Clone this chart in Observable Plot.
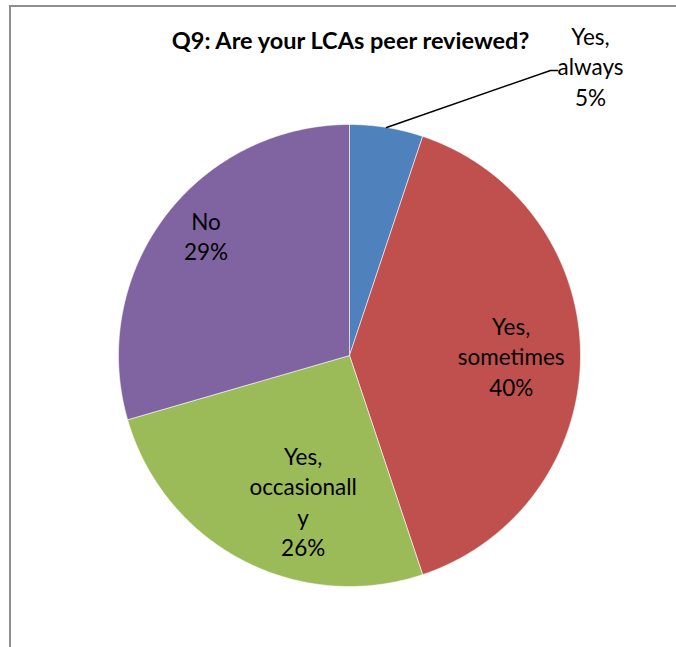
<!DOCTYPE html>
<html>
<head>
<meta charset="utf-8">
<script src="https://cdn.jsdelivr.net/npm/d3@7"></script>
<script src="https://cdn.jsdelivr.net/npm/@observablehq/plot@0.6"></script>
<style>
  html, body { margin: 0; padding: 0; background: #fff; overflow: hidden; }
  #wrap { position: relative; width: 676px; height: 647px; overflow: hidden; }
  #frame { position: absolute; left: 9px; top: 5px; width: 720px; height: 720px;
           border: 2px solid #8f8f8f; box-sizing: border-box; pointer-events: none; }
  #chart { position: absolute; left: 0; top: 0; }
</style>
</head>
<body>
<div id="wrap"><div id="chart"></div><div id="frame"></div></div>
<script>
// ---- data ----
const title = "Q9: Are your LCAs peer reviewed?";
const categories = ["Yes, always", "Yes, sometimes", "Yes, occasionally", "No"];
const wrappedNames = ["Yes,\nalways", "Yes,\nsometimes", "Yes,\noccasionall\ny", "No"];
const counts = [4, 31, 20, 23];
const colors = ["#4F81BD", "#C0504D", "#9BBB59", "#8064A2"];

// ---- layout ----
const W = 676, H = 647;
const cx = 349, cy = 355, R = 231;
const font = "Lato, 'Open Sans', sans-serif";
const toX = px => (px - cx) / R, toY = py => (py - cy) / R;
// label placement: radial fraction for inside labels; [px,py] for outside one
const labelRadius = [null, 0.70, 0.66, 0.81];
const labelAngleShift = [0, 0, -10, 3];
const outsideLabel = [590, 65];
const leaderElbow = [[550, 70], [557, 70]];

const total = d3.sum(counts);
const pie = d3.pie().sort(null).value(d => d)(counts);

const marks = [];
pie.forEach((p, i) => {
  const pts = [{x: 0, y: 0}];
  const n = Math.max(4, Math.ceil((p.endAngle - p.startAngle) / (Math.PI / 360)));
  for (let k = 0; k <= n; k++) {
    const a = p.startAngle + (p.endAngle - p.startAngle) * k / n;
    pts.push({x: Math.sin(a), y: -Math.cos(a)});
  }
  pts.push({x: 0, y: 0});
  marks.push(Plot.line(pts, {x: "x", y: "y", fill: colors[i], stroke: "#ffffff",
    strokeWidth: 0.8, strokeOpacity: 0.7, curve: "linear-closed"}));
});

const labels = pie.map((p, i) => {
  const pct = Math.round(counts[i] / total * 100) + "%";
  const text = wrappedNames[i] + "\n" + pct;
  if (labelRadius[i] == null) {
    return {text, x: toX(outsideLabel[0]), y: toY(outsideLabel[1])};
  }
  const a = (p.startAngle + p.endAngle) / 2 + labelAngleShift[i] * Math.PI / 180;
  return {text, x: labelRadius[i] * Math.sin(a), y: -labelRadius[i] * Math.cos(a)};
});

// leader line for the small slice
const p0 = pie[0];
const am = (p0.startAngle + p0.endAngle) / 2;
const leader = [
  {x: Math.sin(am), y: -Math.cos(am)},
  {x: toX(leaderElbow[0][0]), y: toY(leaderElbow[0][1])},
  {x: toX(leaderElbow[1][0]), y: toY(leaderElbow[1][1])}
];
marks.push(Plot.line(leader, {x: "x", y: "y", stroke: "#000", strokeWidth: 1.5}));

marks.push(Plot.text(labels, {x: "x", y: "y", text: "text", fontSize: 22.5,
  lineHeight: 1.36, fill: "#000", fontFamily: font}));

marks.push(Plot.text([title], {x: toX(350), y: toY(41), text: d => d, fontSize: 23.5,
  fontWeight: "bold", fill: "#000", fontFamily: font}));

const chart = Plot.plot({
  width: W, height: H,
  margin: 0,
  style: {fontFamily: font, background: "transparent"},
  x: {domain: [toX(0), toX(W)], range: [0, W], axis: null},
  y: {domain: [toY(0), toY(H)], range: [0, H], axis: null},
  marks
});
document.getElementById("chart").appendChild(chart);
</script>
</body>
</html>
